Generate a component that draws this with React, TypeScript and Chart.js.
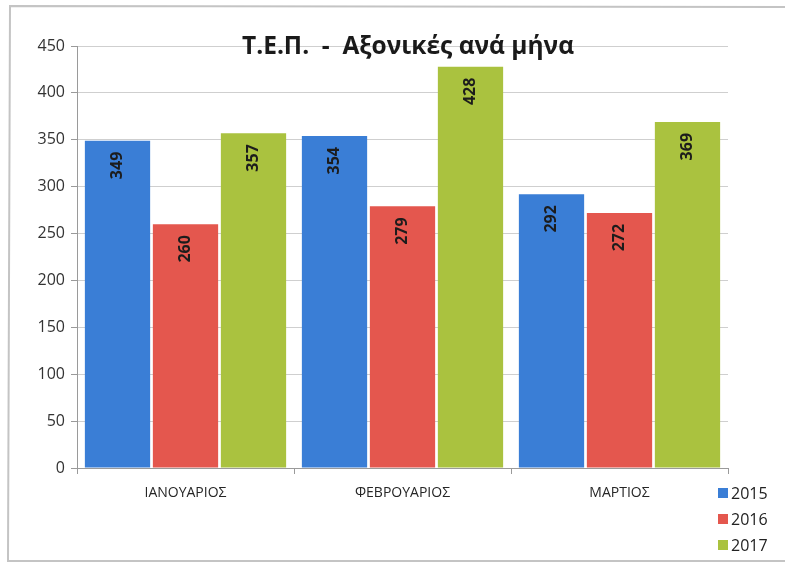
import React, { useEffect, useRef } from "react";
import { Chart, registerables } from "chart.js";

Chart.register(...registerables);

const categories = ["ΙΑΝΟΥΑΡΙΟΣ", "ΦΕΒΡΟΥΑΡΙΟΣ", "ΜΑΡΤΙΟΣ"];
const series2015 = [349, 354, 292];
const series2016 = [260, 279, 272];
const series2017 = [357, 428, 369];
const seriesNames = ["2015", "2016", "2017"];
const seriesColors = ["#3A7ED6", "#E4574E", "#AAC23F"];
const chartTitle = "Τ.Ε.Π.  -  Αξονικές ανά μήνα";

const FONT = "'Open Sans', 'Liberation Sans', sans-serif";

export default function App() {
  const ref = useRef<HTMLCanvasElement | null>(null);

  useEffect(() => {
    document.body.style.margin = "0";
    const canvas = ref.current!;
    const labelPlugin = {
      id: "labelsAndTitle",
      beforeDraw(chart: any) {
        const ctx = chart.ctx;
        ctx.save();
        ctx.strokeStyle = "#c4c4c4";
        ctx.lineWidth = 2;
        ctx.beginPath();
        ctx.moveTo(790, 7);
        ctx.lineTo(10, 6);
        ctx.lineTo(8, 561);
        ctx.lineTo(790, 561);
        ctx.stroke();
        ctx.restore();
      },
      afterDatasetsDraw(chart: any) {
        const ctx = chart.ctx;
        ctx.save();
        chart.data.datasets.forEach((ds: any, di: number) => {
          const meta = chart.getDatasetMeta(di);
          meta.data.forEach((bar: any, i: number) => {
            ctx.save();
            ctx.translate(bar.x, bar.y + 11);
            ctx.rotate(-Math.PI / 2);
            ctx.font = `bold 16px ${FONT}`;
            ctx.fillStyle = "#1c1c1c";
            ctx.textAlign = "right";
            ctx.textBaseline = "middle";
            ctx.fillText(String(ds.data[i]), 0, 0);
            ctx.restore();
          });
        });
        // title
        ctx.font = `bold 24.5px ${FONT}`;
        ctx.fillStyle = "#1a1a1a";
        ctx.textAlign = "center";
        ctx.textBaseline = "alphabetic";
        ctx.fillText(chartTitle, 408, 54);
        // legend
        const lx = 718;
        const ys = [493, 519, 545];
        seriesNames.forEach((n, k) => {
          ctx.fillStyle = seriesColors[k];
          ctx.fillRect(lx, ys[k] - 5, 10, 10);
          ctx.fillStyle = "#222";
          ctx.font = `16px ${FONT}`;
          ctx.textAlign = "left";
          ctx.textBaseline = "middle";
          ctx.fillText(n, lx + 13, ys[k] + 1);
        });
        ctx.restore();
      },
    };

    const chart = new Chart(canvas, {
      type: "bar",
      data: {
        labels: categories,
        datasets: [series2015, series2016, series2017].map((d, k) => ({
          label: seriesNames[k],
          data: d,
          backgroundColor: seriesColors[k],
          borderWidth: 0,
          categoryPercentage: 0.94,
          barPercentage: 0.96,
        })),
      },
      options: {
        responsive: false,
        animation: false,
        layout: { padding: { left: 0, right: 57, top: 46, bottom: 0 } },
        plugins: {
          legend: { display: false },
          title: { display: false },
          tooltip: { enabled: false },
        },
        scales: {
          x: {
            grid: {
              display: true,
              drawOnChartArea: false,
              drawTicks: true,
              tickLength: 6,
              color: "#9a9a9a",
              offset: true,
            },
            border: { display: true, color: "#9a9a9a" },
            ticks: {
              font: { family: FONT, size: 14 },
              color: "#262626",
              padding: 11,
              maxRotation: 0,
            },
            afterFit: (s: any) => {
              s.height = 95;
            },
          },
          y: {
            min: 0,
            max: 450,
            ticks: {
              stepSize: 50,
              font: { family: FONT, size: 16 },
              color: "#333",
              padding: 6,
            },
            grid: {
              color: "#cfcfcf",
              tickLength: 6,
              tickColor: "#9a9a9a",
            },
            border: { display: true, color: "#9a9a9a" },
            afterFit: (s: any) => {
              s.width = 77;
            },
          },
        },
      },
      plugins: [labelPlugin],
    });
    return () => chart.destroy();
  }, []);

  return (
    <div style={{ width: 785, height: 563, background: "#fff" }}>
      <canvas ref={ref} width={785} height={563} style={{ display: "block" }} />
    </div>
  );
}
